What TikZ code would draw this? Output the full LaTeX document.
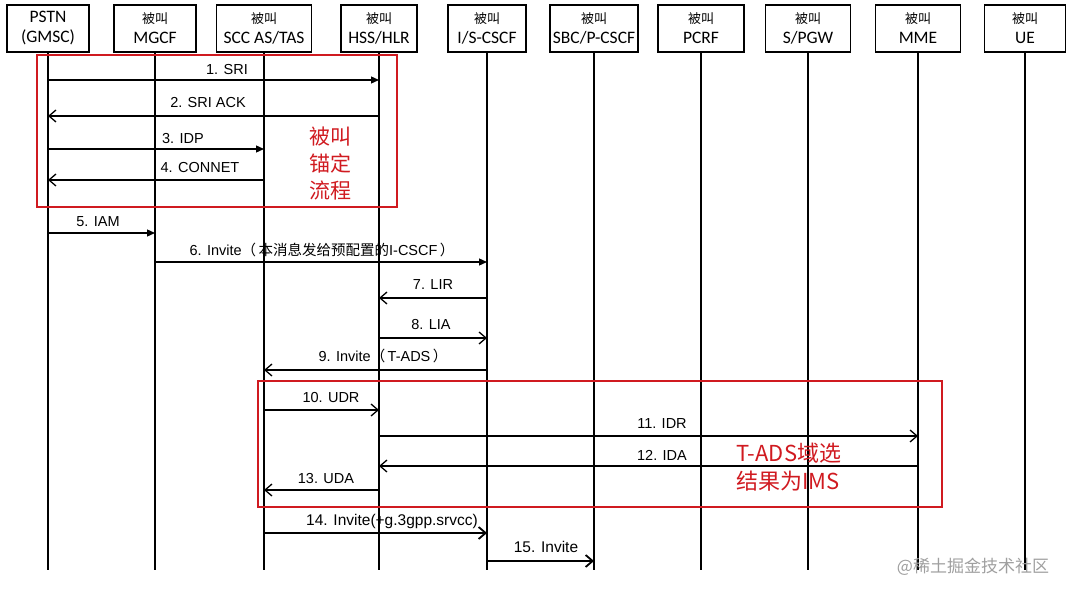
\documentclass[tikz,border=0pt]{standalone}
\usepackage{fontspec}
\setmainfont{Liberation Sans}
\newfontfamily\hdrfont{Carlito}
\newfontfamily\cjk{Noto Sans CJK SC}
\usetikzlibrary{arrows.meta}
\definecolor{redmark}{RGB}{208,26,32}
\newcommand{\bj}{{\cjk\fontsize{13}{14}\selectfont 被叫}}

\begin{document}
\begin{tikzpicture}[x=1pt,y=-1pt,
  hdr/.style={draw,line width=1.3pt,minimum height=47pt,inner sep=0pt,align=center,
    font=\hdrfont\fontsize{17.5}{20}\selectfont},
  life/.style={line width=1.2pt},
  msgf/.style={line width=1.3pt,-{Triangle[length=8pt,width=7pt]}},
  msgo/.style={line width=1.3pt,-{Straight Barb[length=7pt,width=12pt]}},
  lbl/.style={font=\fontsize{14.5}{16}\selectfont},
  redbox/.style={draw=redmark,line width=2.8pt},
  redtxt/.style={text=redmark,font=\cjk\fontsize{21}{27}\selectfont}]
\useasboundingbox (0,0) rectangle (1071,596);
% header boxes
\node[hdr,minimum width=82pt] (pstn) at (48,28.5) {PSTN\\(GMSC)};
\node[hdr,minimum width=82pt] (mgcf) at (155,28.5) {\bj\\MGCF};
\node[hdr,minimum width=95pt] (scc) at (264,28.5) {\bj\\SCC AS/TAS};
\node[hdr,minimum width=76pt] (hss) at (379,28.5) {\bj\\HSS/HLR};
\node[hdr,minimum width=78pt] (icscf) at (487,28.5) {\bj\\I/S-CSCF};
\node[hdr,minimum width=88pt] (pcscf) at (594,28.5) {\bj\\SBC/P-CSCF};
\node[hdr,minimum width=86pt] (pcrf) at (701,28.5) {\bj\\PCRF};
\node[hdr,minimum width=85pt] (pgw) at (808,28.5) {\bj\\S/PGW};
\node[hdr,minimum width=85pt] (mme) at (918,28.5) {\bj\\MME};
\node[hdr,minimum width=81pt] (ue) at (1025,28.5) {\bj\\UE};
% lifelines
\foreach \n in {pstn,mgcf,scc,hss,icscf,pcscf,pcrf,pgw,mme,ue} {
  \draw[life] (\n.south) -- (\n.south |- 0,570);
}
% anchoring of the called party
\draw[redbox] (37,55) rectangle (397,207);
\draw[msgf] (pstn |- 0,80) -- (hss |- 0,80);
\node[lbl] (l1) at (227,70) {1. SRI};
\draw[msgo] (hss |- 0,116) -- (pstn |- 0,116);
\node[lbl] (l2) at (208,103) {2. SRI ACK};
\draw[msgf] (pstn |- 0,149) -- (scc |- 0,149);
\node[lbl] (l3) at (183,139) {3. IDP};
\draw[msgo] (scc |- 0,180) -- (pstn |- 0,180);
\node[lbl] (l4) at (200,168) {4. CONNET};
\node[redtxt,align=center] (anchor) at (330,163) {被叫\\锚定\\流程};
% call towards IMS
\draw[msgf] (pstn |- 0,233) -- (mgcf |- 0,233);
\node[lbl] (l5) at (98,222) {5. IAM};
\draw[msgf] (mgcf |- 0,262) -- (icscf |- 0,262);
\node[lbl] (l6) at (322,250) {6. Invite{\cjk （}\,{\cjk 本消息发给预配置的}I-CSCF\,{\cjk ）}};
\draw[msgo] (icscf |- 0,298) -- (hss |- 0,298);
\node[lbl] (l7) at (433,285) {7. LIR};
\draw[msgo] (hss |- 0,338) -- (icscf |- 0,338);
\node[lbl] (l8) at (431,325) {8. LIA};
\draw[msgo] (icscf |- 0,370) -- (scc |- 0,370);
\node[lbl] (l9) at (383,356) {9. Invite{\cjk （}\,T-ADS\,{\cjk ）}};
% T-ADS domain selection
\draw[redbox] (258,381) rectangle (942,507);
\draw[msgo] (scc |- 0,410) -- (hss |- 0,410);
\node[lbl] (l10) at (331,398) {10. UDR};
\draw[msgo] (hss |- 0,436) -- (mme |- 0,436);
\node[lbl] (l11) at (662,424) {11. IDR};
\draw[msgo] (mme |- 0,466) -- (hss |- 0,466);
\node[lbl] (l12) at (662,455) {12. IDA};
\draw[msgo] (hss |- 0,490) -- (scc |- 0,490);
\node[lbl] (l13) at (326,479) {13. UDA};
\node[redtxt,align=left,anchor=west,font=\cjk\fontsize{22}{28}\selectfont] (tads) at (733,467) {T-ADS域选\\结果为IMS};
% onwards
\draw[msgo,line width=1.8pt] (scc |- 0,533) -- (icscf |- 0,533);
\node[lbl,font=\fontsize{15.5}{17}\selectfont] (l14) at (392,521) {14. Invite(+g.3gpp.srvcc)};
\draw[msgo,line width=1.8pt] (icscf |- 0,561) -- (pcscf |- 0,561);
\node[lbl,font=\fontsize{15.5}{17}\selectfont] (l15) at (546,547) {15. Invite};
\node[text=gray!75,font=\cjk\fontsize{17}{17}\selectfont] (wm) at (973,567) {@稀土掘金技术社区};
\end{tikzpicture}
\end{document}
